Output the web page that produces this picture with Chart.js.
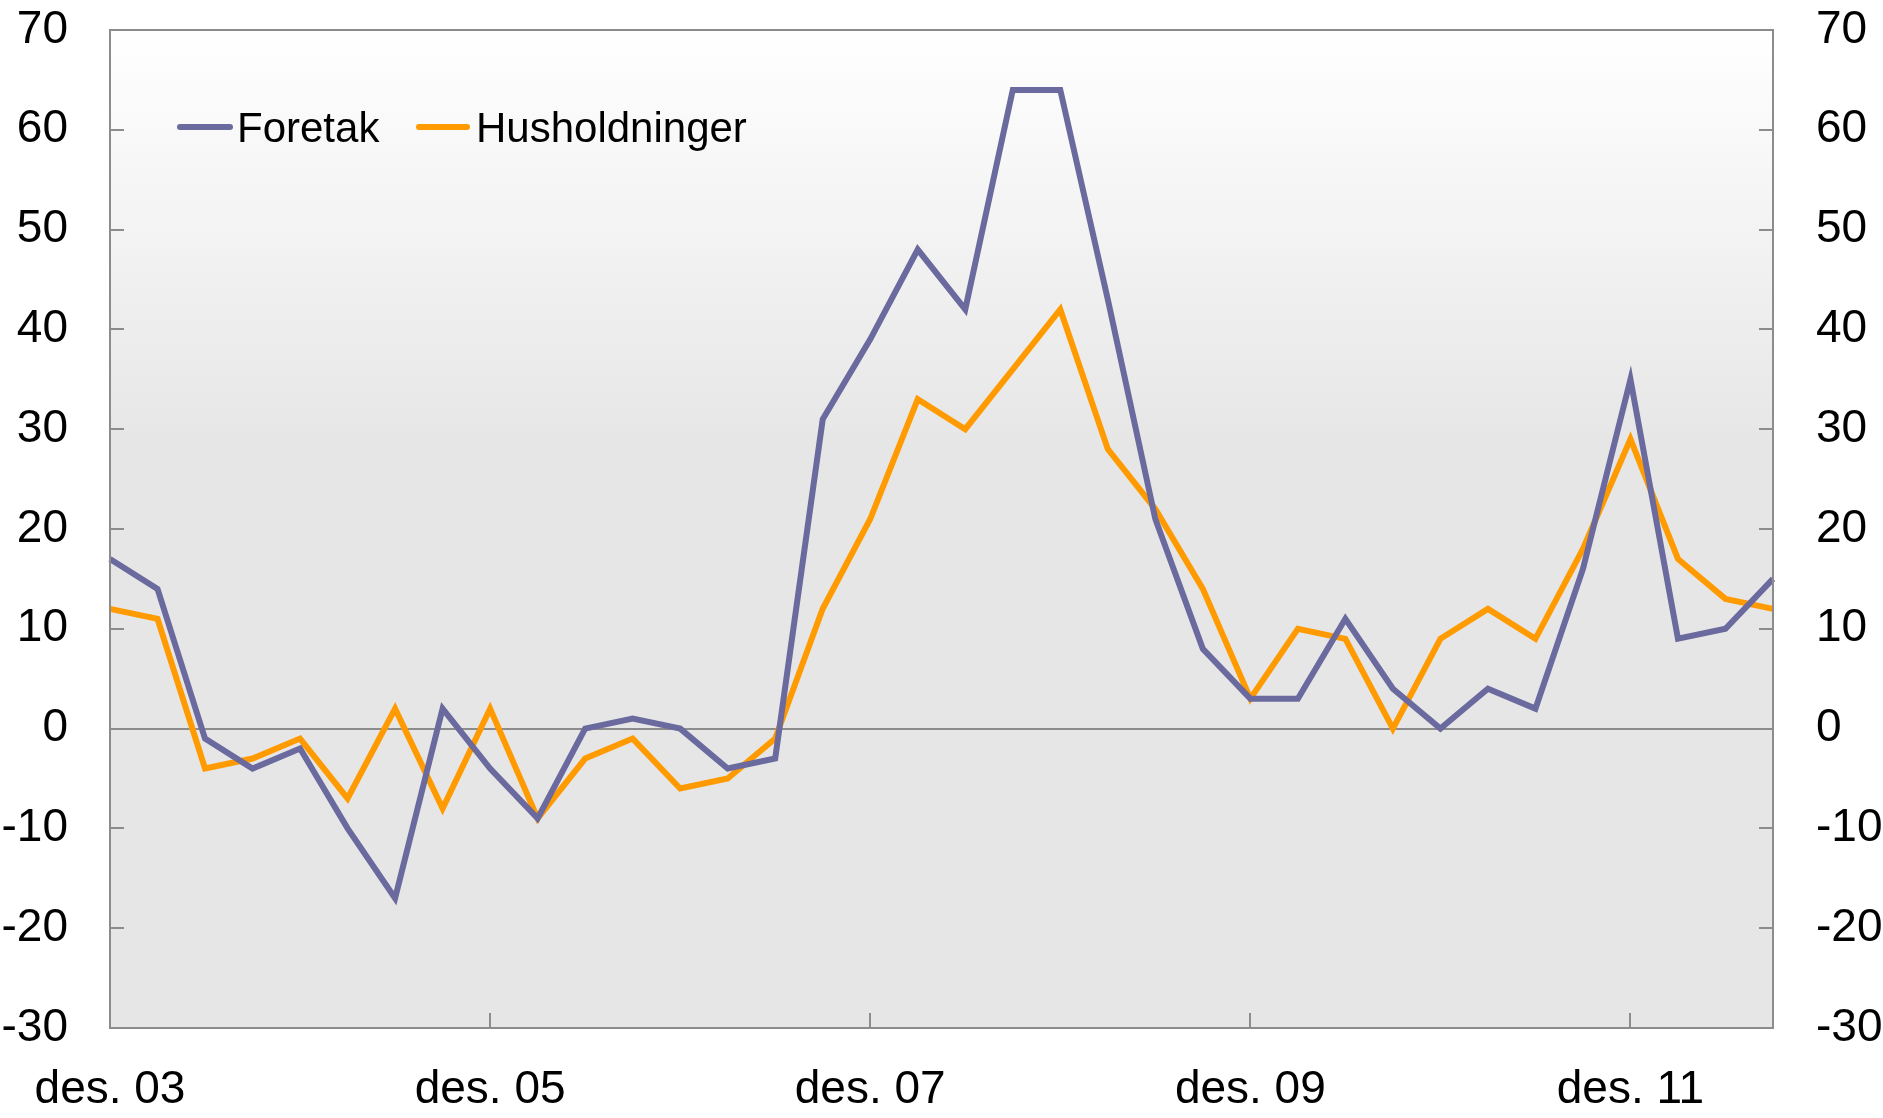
<!DOCTYPE html>
<html lang="no">
<head>
<meta charset="utf-8">
<title>Foretak og husholdninger</title>
<script src="https://cdn.jsdelivr.net/npm/chart.js@4/dist/chart.umd.min.js"></script>
<style>
    html, body {
        margin: 0;
        padding: 0;
        background: #ffffff;
    }
    #wrap {
        position: relative;
        width: 1883px;
        height: 1118px;
    }
    .legend-item {
        position: absolute;
        top: 107px;
        height: 42px;
        line-height: 42px;
        font-family: "Liberation Sans", Arial, sans-serif;
        font-size: 42px;
        color: #000000;
        white-space: nowrap;
    }
    .legend-line {
        position: absolute;
        top: 124px;
        height: 6px;
        border-radius: 3px;
    }
</style>
</head>
<body>
<div id="wrap">
    <canvas id="chart" width="1883" height="1118"></canvas>
    <div class="legend-line" style="left:177px; width:56px; background:#6a6a9e;"></div>
    <div class="legend-item" style="left:237px;">Foretak</div>
    <div class="legend-line" style="left:416px; width:54px; background:#ff9b00;"></div>
    <div class="legend-item" style="left:476px;">Husholdninger</div>
</div>

<script>
// Quarterly observations, des. 03 - sep. 12
const quarters = [
    'des. 03', 'mar. 04', 'jun. 04', 'sep. 04', 'des. 04', 'mar. 05', 'jun. 05', 'sep. 05',
    'des. 05', 'mar. 06', 'jun. 06', 'sep. 06', 'des. 06', 'mar. 07', 'jun. 07', 'sep. 07',
    'des. 07', 'mar. 08', 'jun. 08', 'sep. 08', 'des. 08', 'mar. 09', 'jun. 09', 'sep. 09',
    'des. 09', 'mar. 10', 'jun. 10', 'sep. 10', 'des. 10', 'mar. 11', 'jun. 11', 'sep. 11',
    'des. 11', 'mar. 12', 'jun. 12', 'sep. 12'
];

const foretak = [
    17, 14, -1, -4, -2, -10, -17, 2,
    -4, -9, 0, 1, 0, -4, -3, 31,
    39, 48, 42, 64, 64, 43, 21, 8,
    3, 3, 11, 4, 0, 4, 2, 16,
    35, 9, 10, 15
];

const husholdninger = [
    12, 11, -4, -3, -1, -7, 2, -8,
    2, -9, -3, -1, -6, -5, -1, 12,
    21, 33, 30, 36, 42, 28, 22, 14,
    3, 10, 9, 0, 9, 12, 9, 18,
    29, 17, 13, 12
];

// Only every second December is labelled
const labelledQuarters = ['des. 03', 'des. 05', 'des. 07', 'des. 09', 'des. 11'];

const yMin = -30;
const yMax = 70;
const yStep = 10;

const FONT = '"Liberation Sans", Arial, sans-serif';
const FRAME_COLOR = '#8c8c8c';

/**
 * Gradient background behind the plot area
 */
const backgroundPlugin = {
    id: 'plotBackground',
    beforeDraw(chart) {
        const { ctx, chartArea } = chart;
        const g = ctx.createLinearGradient(0, chartArea.top, 0, chartArea.bottom);
        g.addColorStop(0, '#ffffff');
        g.addColorStop(0.42, '#e6e6e6');
        g.addColorStop(1, '#e6e6e6');
        ctx.save();
        ctx.fillStyle = g;
        ctx.fillRect(chartArea.left, chartArea.top,
            chartArea.right - chartArea.left, chartArea.bottom - chartArea.top);
        ctx.restore();
    }
};

/**
 * Frame around the plot and inward tick marks
 */
const framePlugin = {
    id: 'plotFrame',
    afterDatasetsDraw(chart) {
        const { ctx, chartArea, scales } = chart;
        const len = 14;
        ctx.save();
        ctx.strokeStyle = FRAME_COLOR;
        ctx.lineWidth = 2;

        // y ticks on both sides
        scales.y.ticks.forEach(t => {
            const py = Math.round(scales.y.getPixelForValue(t.value));
            ctx.beginPath();
            ctx.moveTo(chartArea.left, py);
            ctx.lineTo(chartArea.left + len, py);
            ctx.moveTo(chartArea.right - len, py);
            ctx.lineTo(chartArea.right, py);
            ctx.stroke();
        });

        // x ticks at the labelled quarters
        quarters.forEach((q, i) => {
            if (!labelledQuarters.includes(q)) return;
            const px = Math.round(scales.x.getPixelForValue(i));
            ctx.beginPath();
            ctx.moveTo(px, chartArea.bottom);
            ctx.lineTo(px, chartArea.bottom - 15);
            ctx.stroke();
        });

        ctx.strokeRect(chartArea.left, chartArea.top,
            chartArea.right - chartArea.left, chartArea.bottom - chartArea.top);
        ctx.restore();
    }
};

const tickFont = { family: FONT, size: 46, lineHeight: 1 };

// invisible tick marks are used as the gap between axis and labels,
// because ticks.padding also pads the chart area
function gapGrid(length, extra) {
    return Object.assign({
        drawOnChartArea: false,
        drawTicks: true,
        tickLength: length,
        tickColor: 'transparent',
        color: 'transparent'
    }, extra || {});
}

new Chart(document.getElementById('chart'), {
    type: 'line',
    data: {
        labels: quarters,
        datasets: [
            {
                label: 'Foretak',
                data: foretak,
                borderColor: '#6a6a9e',
                borderWidth: 6,
                pointRadius: 0,
                tension: 0,
                yAxisID: 'y'
            },
            {
                label: 'Husholdninger',
                data: husholdninger,
                borderColor: '#ff9b00',
                borderWidth: 6,
                pointRadius: 0,
                tension: 0,
                yAxisID: 'y'
            }
        ]
    },
    options: {
        responsive: false,
        animation: false,
        layout: {
            padding: { top: 30, left: 0, right: 0, bottom: 0 }
        },
        plugins: {
            legend: { display: false },
            tooltip: { enabled: false }
        },
        scales: {
            x: {
                type: 'category',
                offset: false,
                grid: gapGrid(39),
                border: { display: false },
                ticks: {
                    autoSkip: false,
                    maxRotation: 0,
                    minRotation: 0,
                    padding: 0,
                    color: '#000000',
                    font: tickFont,
                    callback: function(value) {
                        const label = this.getLabelForValue(value);
                        return labelledQuarters.includes(label) ? label : '';
                    }
                },
                afterFit(scale) {
                    scale.height = 90;
                }
            },
            y: {
                position: 'left',
                min: yMin,
                max: yMax,
                grid: gapGrid(42, {
                    drawOnChartArea: true,
                    lineWidth: 2,
                    color: ctx => (ctx.tick && ctx.tick.value === 0) ? FRAME_COLOR : 'transparent'
                }),
                border: { display: false },
                ticks: {
                    stepSize: yStep,
                    padding: 0,
                    color: '#000000',
                    font: tickFont
                },
                afterFit(scale) {
                    scale.width = 110;
                }
            },
            y2: {
                position: 'right',
                min: yMin,
                max: yMax,
                grid: gapGrid(43),
                border: { display: false },
                ticks: {
                    stepSize: yStep,
                    padding: 0,
                    color: '#000000',
                    font: tickFont
                },
                afterFit(scale) {
                    scale.width = 110;
                }
            }
        }
    },
    plugins: [backgroundPlugin, framePlugin]
});
</script>
</body>
</html>
